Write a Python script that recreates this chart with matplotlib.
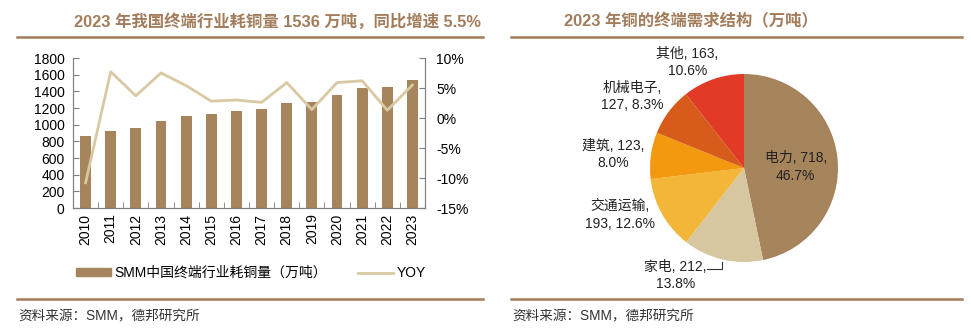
import numpy as np
import matplotlib.pyplot as plt
from matplotlib.lines import Line2D
from matplotlib.patches import Patch

plt.rcParams['font.family'] = ['Liberation Sans', 'Noto Sans CJK SC']

years = [str(y) for y in range(2010, 2024)]
consumption = [865, 930, 963, 1040, 1100, 1124, 1160, 1188, 1258, 1276, 1353, 1437, 1453, 1536]
yoy = [-10.8, 7.7, 3.7, 7.5, 5.4, 2.8, 3.0, 2.6, 5.9, 1.4, 5.9, 6.2, 1.3, 5.5]

sectors = ['电力', '家电', '交通运输', '建筑', '机械电子', '其他']
demand = [718, 212, 193, 123, 127, 163]
shares = [46.7, 13.8, 12.6, 8.0, 8.3, 10.6]
pie_colors = ['#A6845C', '#D6C7A1', '#F3B638', '#F3990F', '#D75B1B', '#E13B27']
label_text = ['电力, 718,\n46.7%', '家电, 212,\n13.8%', '交通运输,\n193, 12.6%',
              '建筑, 123,\n8.0%', '机械电子,\n127, 8.3%', '其他, 163,\n10.6%']
label_pos = [(0.55, 0.01), (-0.73, -1.14), (-1.32, -0.50),
             (-1.39, 0.14), (-1.19, 0.76), (-0.60, 1.12)]

brown = '#A37D5B'
bar_color = '#A6845C'
line_color = '#D8C9A3'
W, H = 971, 328

fig = plt.figure(figsize=(W / 100, H / 100), dpi=100)


def box(x0, y0, x1, y1):
    return [x0 / W, 1 - y1 / H, (x1 - x0) / W, (y1 - y0) / H]


# headers, rules, sources
fig.text(277 / W, 1 - 21 / H, '2023 年我国终端行业耗铜量 1536 万吨，同比增速 5.5%',
         ha='center', va='center', fontsize=11.8, fontweight='bold', color=brown)
fig.text(691 / W, 1 - 21 / H, '2023 年铜的终端需求结构（万吨）',
         ha='center', va='center', fontsize=11.8, fontweight='bold', color=brown)
for x0, x1 in [(17, 483), (511, 962)]:
    for y in [37, 299]:
        fig.add_artist(Line2D([x0 / W, x1 / W], [1 - y / H, 1 - y / H],
                              color=brown, lw=1.8))
    fig.text(x0 / W + 0.001, 1 - 316 / H, '资料来源：SMM，德邦研究所',
             ha='left', va='center', fontsize=9.8, color='#333333')

# left chart
ax = fig.add_axes(box(73, 58, 425, 208))
x = np.arange(len(years))
ax.bar(x, consumption, width=0.43, color=bar_color, zorder=2)
ax.set_xlim(-0.5, len(years) - 0.5)
ax.set_ylim(0, 1800)
ax.set_yticks(range(0, 1801, 200))
ax.set_xticks(x)
ax.set_xticklabels(years, rotation=90)
ax.set_xticks(np.arange(-0.5, len(years), 1), minor=True)
ax.tick_params(axis='x', which='major', length=0, labelsize=10, pad=4)
ax.tick_params(axis='x', which='minor', direction='in', length=4, color='#808080')
ax.tick_params(axis='y', direction='in', length=4, color='#808080', labelsize=10, pad=6)
ax.spines['top'].set_visible(False)
for s in ['left', 'bottom', 'right']:
    ax.spines[s].set_color('#808080')

ax2 = ax.twinx()
ax2.plot(x, yoy, color=line_color, lw=2, zorder=3)
ax2.set_ylim(-15, 10)
ax2.set_yticks(range(-15, 11, 5))
ax2.set_yticklabels([f'{v}%' for v in range(-15, 11, 5)])
ax2.tick_params(axis='y', direction='in', length=4, color='#808080', labelsize=10, pad=8)
ax2.spines['top'].set_visible(False)
for s in ['left', 'bottom', 'right']:
    ax2.spines[s].set_color('#808080')

handles = [Patch(color=bar_color), Line2D([], [], color=line_color, lw=2)]
fig.legend(handles, ['SMM中国终端行业耗铜量（万吨）', 'YOY'], loc='center',
           bbox_to_anchor=(251 / W, 1 - 273 / H), ncol=2, frameon=False,
           fontsize=10, handlelength=2.5, handleheight=0.45,
           columnspacing=2.2, handletextpad=0.3)

# pie
pax = fig.add_axes(box(744 - 94, 168 - 94, 744 + 94, 168 + 94))
pax.pie(demand, colors=pie_colors, startangle=90, counterclock=False,
        wedgeprops=dict(linewidth=0))
pax.set_xlim(-1, 1)
pax.set_ylim(-1, 1)
pax.set_aspect('equal')
pax.axis('off')
for txt, (lx, ly) in zip(label_text, label_pos):
    pax.text(lx, ly, txt, ha='center', va='center', fontsize=10,
             color='#222222', linespacing=1.3, clip_on=False)
# leader line for 家电
pax.plot([-0.39, -0.23, -0.23], [-1.07, -1.07, -1.0], color='#333333', lw=0.8,
         clip_on=False)

fig.savefig('out.png', dpi=100)
